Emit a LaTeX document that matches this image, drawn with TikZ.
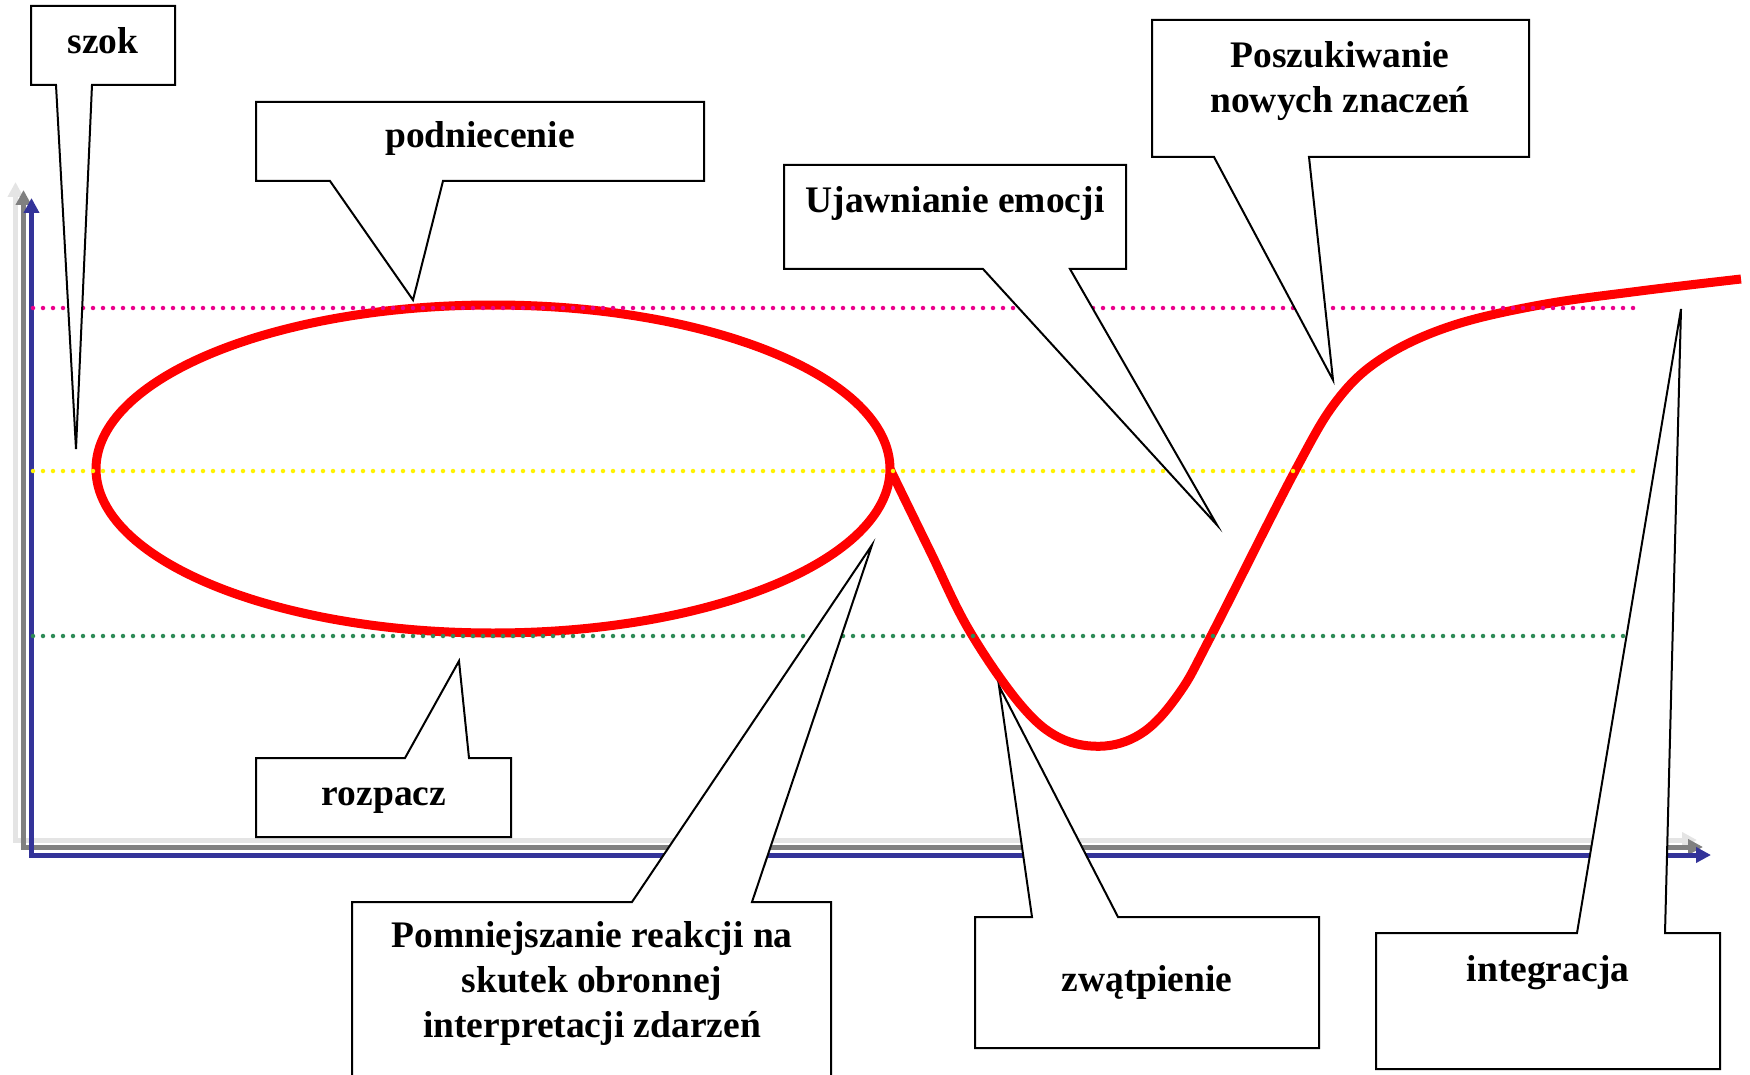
\documentclass[tikz,border=0pt]{standalone}
\usepackage{fontspec}
\setmainfont{Liberation Serif}
\usetikzlibrary{arrows.meta}
\definecolor{axblue}{RGB}{51,51,153}
\definecolor{axgray}{RGB}{128,128,128}
\definecolor{axlight}{RGB}{228,228,228}
\definecolor{dotgreen}{RGB}{46,139,87}
\begin{document}
\begin{tikzpicture}[x=1pt,y=-1pt,
  axis/.style={line width=5pt, line join=miter, {Triangle[length=15pt,width=15pt]}-{Triangle[length=15pt,width=15pt]}},
  guide/.style={line width=4.5pt, dash pattern=on 0pt off 10pt, line cap=round},
  curve/.style={red, line width=9pt},
  callout/.style={draw=black, line width=2pt, fill=white, line join=miter},
  lbl/.style={font=\fontsize{37.5}{45}\selectfont\bfseries, inner sep=0pt, anchor=base}]
\useasboundingbox (0,0) rectangle (1750,1075);
\clip (0,0) rectangle (1750,1075);
% axes
\draw[axis, axlight] (15.5,182) -- (15.5,840) -- (1697,840);
\draw[axis, axgray] (23.5,190) -- (23.5,847) -- (1703,847);
\draw[axis, axblue] (31.5,198) -- (31.5,855) -- (1711,855);
% red curve
\draw[curve] (493,469) ellipse [x radius=397, y radius=164];
\draw[curve] plot[smooth, tension=0.6] coordinates {(890,469) (930,551) (969,630) (1020,704) (1060,738) (1105,746) (1145,731) (1180,692) (1211,636) (1295,471) (1338,399) (1384,357) (1451,326) (1540,305) (1640,291) (1741,279)};
% dotted levels
\draw[guide, magenta] (33,308) -- (1641,308);
\draw[guide, yellow] (33,471) -- (1641,471);
\draw[guide, dotgreen] (33,636) -- (1624,636);
% callouts (tail below)
\draw[callout] (31,6) -- (175,6) -- (175,85) -- (92,85) -- (76,449) -- (56,85) -- (31,85) -- cycle;
\draw[callout] (256,102) -- (704,102) -- (704,181) -- (443,181) -- (413,300) -- (330,181) -- (256,181) -- cycle;
\draw[callout] (784,165) -- (1126,165) -- (1126,269) -- (1070,269) -- (1217,525) -- (983,269) -- (784,269) -- cycle;
\draw[callout] (1152,20) -- (1529,20) -- (1529,157) -- (1309,157) -- (1333,380) -- (1214,157) -- (1152,157) -- cycle;
% callouts (tail above)
\draw[callout] (256,758) -- (405,758) -- (459,661) -- (469,758) -- (511,758) -- (511,837) -- (256,837) -- cycle;
\draw[callout] (352,902) -- (632,902) -- (872,545) -- (752,902) -- (831,902) -- (831,1090) -- (352,1090) -- cycle;
\draw[callout] (975,917) -- (1032,917) -- (999,686) -- (1118,917) -- (1319,917) -- (1319,1048) -- (975,1048) -- cycle;
\draw[callout] (1376,933) -- (1577,933) -- (1681,309) -- (1665,933) -- (1720,933) -- (1720,1069) -- (1376,1069) -- cycle;
% labels
\node[lbl] (szok) at (103,54) {szok};
\node[lbl] (podn) at (480,148) {podniecenie};
\node[lbl] (ujaw) at (955,213) {Ujawnianie emocji};
\node[lbl] (posz1) at (1340,68) {Poszukiwanie};
\node[lbl] (posz2) at (1340,113) {nowych znaczeń};
\node[lbl] (rozp) at (384,805) {rozpacz};
\node[lbl] (pom1) at (592,947) {Pomniejszanie reakcji na};
\node[lbl] (pom2) at (592,992) {skutek obronnej};
\node[lbl] (pom3) at (592,1037) {interpretacji zdarzeń};
\node[lbl] (zwat) at (1147,991) {zwątpienie};
\node[lbl] (integ) at (1548,981) {integracja};
\end{tikzpicture}
\end{document}
